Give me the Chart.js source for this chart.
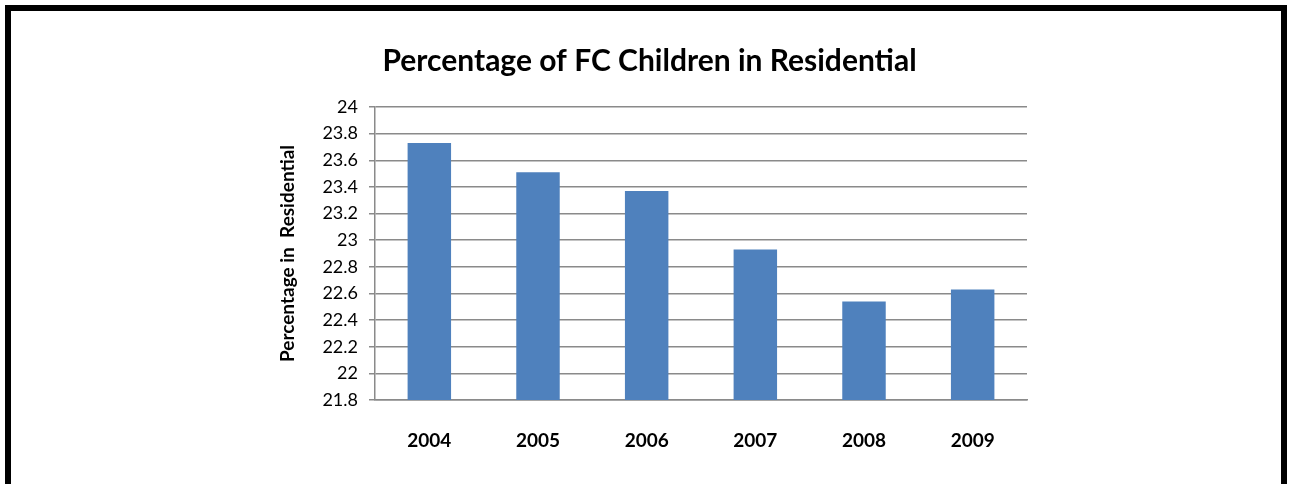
<!DOCTYPE html>
<html>
<head>
<meta charset="utf-8">
<script src="https://cdn.jsdelivr.net/npm/chart.js@4/dist/chart.umd.min.js"></script>
<style>
  html, body { margin: 0; padding: 0; background: #fff; }
  .frame {
    position: absolute; left: 5px; top: 5px; width: 1270px; height: 479px;
    border: 6px solid #000; border-bottom: none;
  }
  #wrap { position: absolute; left: 0; top: 0; width: 1291px; height: 484px; }
</style>
</head>
<body>
<div class="frame"></div>
<div id="wrap"><canvas id="myChart" width="1291" height="484"></canvas></div>
<script>
// data
const years = ['2004', '2005', '2006', '2007', '2008', '2009'];
const residentialPct = [23.73, 23.51, 23.37, 22.93, 22.54, 22.63];
const yTickLabels = ['21.8', '22', '22.2', '22.4', '22.6', '22.8', '23', '23.2', '23.4', '23.6', '23.8', '24'];

const FONT = 'Lato';
const gridGrey = '#8a8a8a';

function createChart() {
  var ctx = document.getElementById('myChart').getContext('2d');
  new Chart(ctx, {
    type: 'bar',
    data: {
      labels: years,
      datasets: [{
        data: residentialPct,
        backgroundColor: '#4f81bd',
        barPercentage: 0.4,
        categoryPercentage: 1
      }]
    },
    options: {
      responsive: false,
      animation: false,
      layout: { padding: { left: 272, right: 264, top: 0, bottom: 0 } },
      plugins: {
        legend: { display: false },
        tooltip: { enabled: false },
        title: {
          display: true,
          text: 'Percentage of FC Children in Residential',
          color: '#000',
          font: { family: FONT, size: 30, weight: 'bold' },
          padding: { top: 43, bottom: 28 }
        }
      },
      scales: {
        x: {
          grid: { display: false, drawTicks: false },
          border: { display: true, color: gridGrey, width: 1.5 },
          ticks: { color: '#000', padding: 29, font: { family: FONT, size: 19, weight: 'bold' } },
          afterFit: function (scale) { scale.height = 84; }
        },
        y: {
          min: 21.8,
          max: 24,
          ticks: {
            stepSize: 0.2,
            color: '#000',
            padding: 11,
            font: { family: FONT, size: 18 },
            callback: function (value, index) { return yTickLabels[index]; }
          },
          grid: { color: gridGrey, lineWidth: 1.5, tickLength: 6 },
          border: { display: true, color: gridGrey, width: 1.5 },
          title: {
            display: true,
            text: 'Percentage in  Residential',
            color: '#000',
            font: { family: FONT, size: 19, weight: 'bold' },
            padding: { top: 4, bottom: 0 }
          },
          afterFit: function (scale) { scale.width = 103; }
        }
      }
    }
  });
}

createChart();
</script>
</body>
</html>
